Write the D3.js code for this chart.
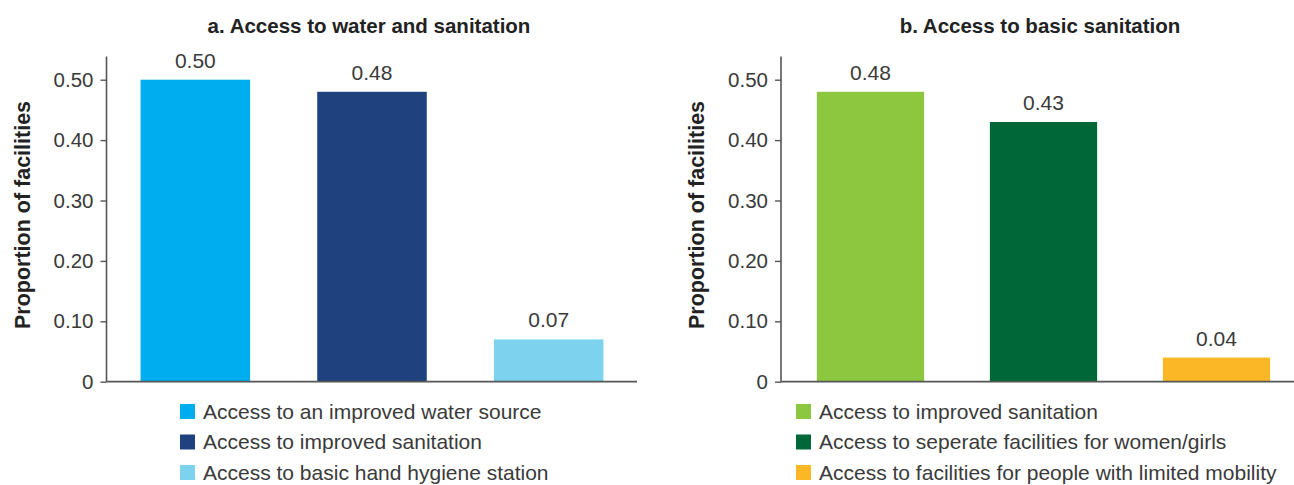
<!DOCTYPE html>
<html>
<head>
<meta charset="utf-8">
<script src="https://cdn.jsdelivr.net/npm/d3@7"></script>
<style>
  html, body { margin: 0; padding: 0; background: #fff; }
  svg { display: block; }
</style>
</head>
<body>
<svg id="chart" width="1294" height="485"></svg>
<script>
// Panel a: access to water and sanitation
const waterCategories = [
  "Access to an improved water source",
  "Access to improved sanitation",
  "Access to basic hand hygiene station"
];
const waterValues = [0.50, 0.48, 0.07];
const waterColors = ["#00aeef", "#1f417d", "#7dd3ee"];

// Panel b: access to basic sanitation
const sanitationCategories = [
  "Access to improved sanitation",
  "Access to seperate facilities for women/girls",
  "Access to facilities for people with limited mobility"
];
const sanitationValues = [0.48, 0.43, 0.04];
const sanitationColors = ["#8dc63f", "#006838", "#fbb726"];

const yTickValues = [0, 0.10, 0.20, 0.30, 0.40, 0.50];
const yTickLabels = ["0", "0.10", "0.20", "0.30", "0.40", "0.50"];

const yAxisTitle = "Proportion of facilities";
const panelTitles = ["a. Access to water and sanitation", "b. Access to basic sanitation"];

const svg = d3.select("#chart");
const font = "'Liberation Sans', Arial, Helvetica, sans-serif";
const textColor = "#3a3a3a";
const axisColor = "#555";

const y = d3.scaleLinear().domain([0, 0.5]).range([381.7, 79.7]);
const yTop = 56.5;

function drawPanel(opts) {
  const g = svg.append("g");
  const x = d3.scaleBand()
    .domain(opts.categories)
    .range([opts.x0, opts.x1])
    .paddingInner(0.38)
    .paddingOuter(0.19);

  // title
  g.append("text")
    .attr("x", opts.titleX)
    .attr("y", 33)
    .attr("text-anchor", "middle")
    .attr("font-family", font)
    .attr("font-weight", "bold")
    .attr("font-size", 20.5)
    .attr("fill", "#222")
    .text(opts.title);

  // y axis title
  g.append("text")
    .attr("transform", `translate(${opts.axisX - 77},215) rotate(-90)`)
    .attr("text-anchor", "middle")
    .attr("font-family", font)
    .attr("font-weight", "bold")
    .attr("font-size", 21.5)
    .attr("fill", "#222")
    .text(yAxisTitle);

  // bars
  g.selectAll("rect.bar")
    .data(opts.values)
    .join("rect")
    .attr("class", "bar")
    .attr("x", (d, i) => x(opts.categories[i]))
    .attr("width", x.bandwidth())
    .attr("y", d => y(d))
    .attr("height", d => y(0) - y(d))
    .attr("fill", (d, i) => opts.colors[i]);

  // value labels
  g.selectAll("text.val")
    .data(opts.values)
    .join("text")
    .attr("class", "val")
    .attr("x", (d, i) => x(opts.categories[i]) + x.bandwidth() / 2)
    .attr("y", d => y(d) - 12)
    .attr("text-anchor", "middle")
    .attr("font-family", font)
    .attr("font-size", 21)
    .attr("fill", textColor)
    .text(d => d.toFixed(2));

  // y axis
  const yAxis = d3.axisLeft(y)
    .tickValues(yTickValues)
    .tickFormat((d, i) => yTickLabels[i])
    .tickSize(6)
    .tickPadding(7);
  const ya = g.append("g")
    .attr("transform", `translate(${opts.axisX},0)`)
    .call(yAxis);
  ya.select(".domain").remove();
  ya.selectAll(".tick line").attr("stroke", axisColor).attr("stroke-width", 1.4);
  ya.selectAll(".tick text")
    .attr("font-family", font)
    .attr("font-size", 20.5)
    .attr("fill", textColor);
  g.append("line")
    .attr("x1", opts.axisX).attr("x2", opts.axisX)
    .attr("y1", yTop).attr("y2", y(0))
    .attr("stroke", axisColor).attr("stroke-width", 1.6);

  // x baseline
  g.append("line")
    .attr("x1", opts.axisX).attr("x2", opts.x1)
    .attr("y1", y(0)).attr("y2", y(0))
    .attr("stroke", axisColor).attr("stroke-width", 1.8);

  // legend
  const leg = g.append("g").attr("transform", `translate(${opts.legendX},411.5)`);
  const rows = leg.selectAll("g")
    .data(opts.categories)
    .join("g")
    .attr("transform", (d, i) => `translate(0,${i * 30.5})`);
  rows.append("rect")
    .attr("x", 0).attr("y", -7.5)
    .attr("width", 15).attr("height", 15)
    .attr("fill", (d, i) => opts.colors[i]);
  rows.append("text")
    .attr("x", 23)
    .attr("y", 0)
    .attr("dy", "0.35em")
    .attr("font-family", font)
    .attr("font-size", 21)
    .attr("fill", textColor)
    .text(d => d);
}

drawPanel({
  title: panelTitles[0],
  titleX: 369,
  categories: waterCategories,
  values: waterValues,
  colors: waterColors,
  axisX: 106.5,
  x0: 107,
  x1: 637,
  legendX: 180
});

drawPanel({
  title: panelTitles[1],
  titleX: 1040,
  categories: sanitationCategories,
  values: sanitationValues,
  colors: sanitationColors,
  axisX: 781,
  x0: 784,
  x1: 1303,
  legendX: 796
});
</script>
</body>
</html>
